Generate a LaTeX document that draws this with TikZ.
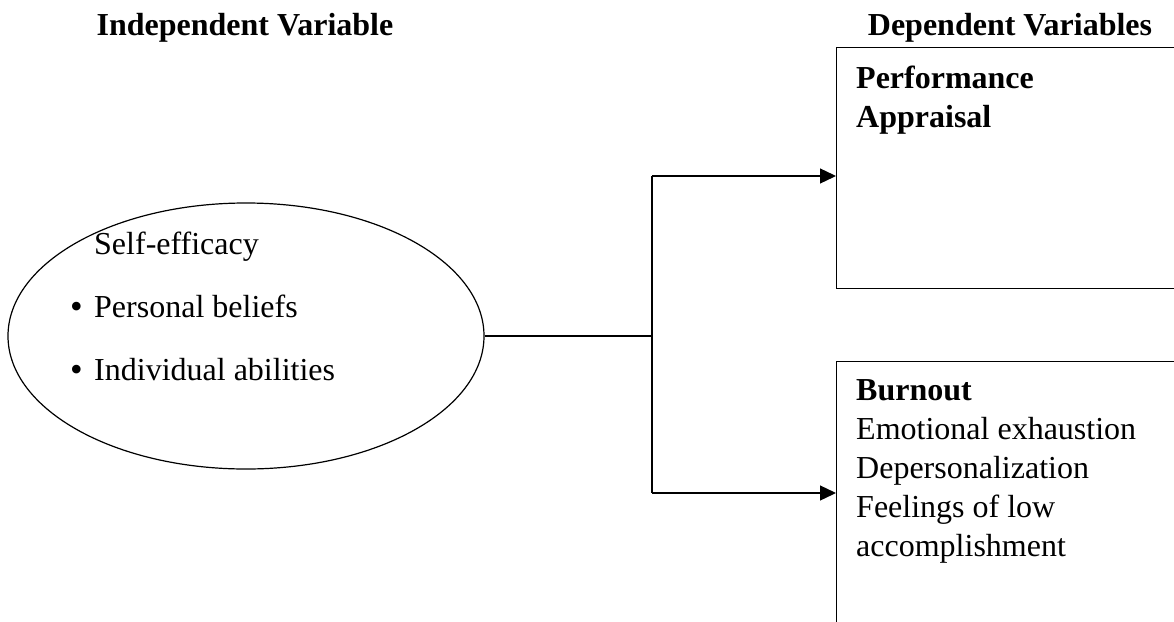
\documentclass[tikz,border=0pt]{standalone}
\usepackage{fontspec}
\setmainfont{Liberation Serif}
\usetikzlibrary{arrows.meta,shapes.geometric}
\begin{document}
\begin{tikzpicture}[x=1pt,y=-1pt,
  txt/.style={anchor=base west, inner sep=0pt, align=left, font=\fontsize{32}{39}\selectfont},
  hdr/.style={anchor=base, inner sep=0pt, font=\fontsize{32}{39}\selectfont\bfseries},
  frame/.style={draw, line width=1.2pt},
  conn/.style={line width=1.3pt},
  arr/.style={conn, -{Triangle[length=16pt,width=15pt]}}]
\useasboundingbox (0,0) rectangle (1174,621);
\clip (0,0) rectangle (1174,621);
% headers
\node[hdr] (hi) at (245,35) {Independent Variable};
\node[hdr] (hd) at (1010,35) {Dependent Variables};
% ellipse
\node[ellipse, frame, minimum width=476pt, minimum height=266pt, inner sep=0pt] (se) at (246,336) {};
\node[txt] (t1) at (94,254) {Self-efficacy};
\node[txt] (t2) at (94,317) {Personal beliefs};
\node[txt] (t3) at (94,380) {Individual abilities};
\node[txt, anchor=base east, font=\fontsize{36}{39}\selectfont] (b2) at (83,318) {\textbullet};
\node[txt, anchor=base east, font=\fontsize{36}{39}\selectfont] (b3) at (83,381) {\textbullet};
% boxes
\node[frame, rectangle, anchor=north west, minimum width=360pt, minimum height=241pt, inner sep=0pt] (pa) at (836,47) {};
\node[frame, rectangle, anchor=north west, minimum width=360pt, minimum height=280pt, inner sep=0pt] (bo) at (836,361) {};
\node[txt, font=\fontsize{32}{39}\selectfont\bfseries] (pat) at (856,127) {Performance\\Appraisal};
\node[txt] (bot) at (856,556) {\textbf{Burnout}\\Emotional exhaustion\\Depersonalization\\Feelings of low\\accomplishment};
% connectors
\coordinate (j) at (652,336);
\coordinate (jt) at (652,176);
\coordinate (jb) at (652,493);
\draw[conn] (se.east) -- (j);
\draw[conn] (jt) -- (jb);
\draw[arr] (jt) -- (pa.west |- jt);
\draw[arr] (jb) -- (bo.west |- jb);
\end{tikzpicture}
\end{document}
